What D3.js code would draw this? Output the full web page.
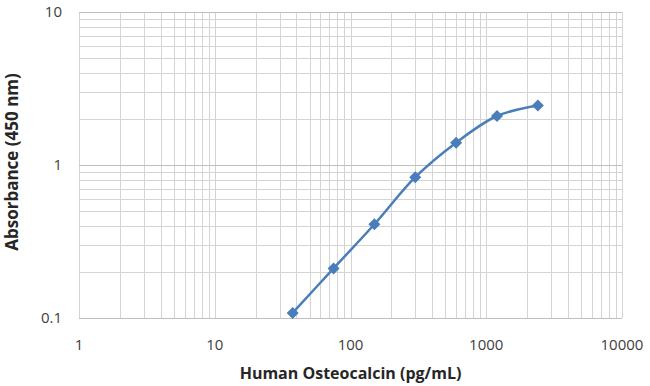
<!DOCTYPE html>
<html>
<head>
<meta charset="utf-8">
<script src="https://d3js.org/d3.v7.min.js"></script>
<style>
  body { margin: 0; background: #fff; }
  text { font-family: "Open Sans", "Liberation Sans", sans-serif; }
</style>
</head>
<body>
<div id="chart"></div>
<script>
// standard curve values
var conc = [37.5, 75, 150, 300, 600, 1200, 2400];
var absorb = [0.108, 0.211, 0.41, 0.833, 1.40, 2.09, 2.45];
var xTicks = [1, 10, 100, 1000, 10000];
var yTicks = [0.1, 1, 10];

var margin = {top: 12, right: 28, bottom: 68, left: 79},
    width = 650 - margin.left - margin.right,
    height = 386 - margin.top - margin.bottom;

var svg = d3.select("#chart")
  .append("svg")
    .attr("width", 650)
    .attr("height", 386)
  .append("g")
    .attr("transform", "translate(" + margin.left + "," + margin.top + ")");

var x = d3.scaleLog().domain([1, 10000]).range([0, width]);
var y = d3.scaleLog().domain([0.1, 10]).range([height, 0]);

// minor + major gridlines
var xGrid = [], yGrid = [];
for (var d = 1; d < 10000; d *= 10)
  for (var k = 1; k < 10; k++) xGrid.push(d * k);
xGrid.push(10000);
for (var d = 0.1; d < 9; d *= 10)
  for (var k = 1; k < 10; k++) yGrid.push(d * k);
yGrid.push(10);

svg.selectAll(".gx").data(xGrid).enter().append("line")
  .attr("x1", function(d) { return Math.round(x(d)) + 0.5; })
  .attr("x2", function(d) { return Math.round(x(d)) + 0.5; })
  .attr("y1", 0).attr("y2", height)
  .attr("stroke", "#d4d4d4").attr("stroke-width", 1);

svg.selectAll(".gy").data(yGrid).enter().append("line")
  .attr("y1", function(d) { return Math.round(y(d)) + 0.5; })
  .attr("y2", function(d) { return Math.round(y(d)) + 0.5; })
  .attr("x1", 0).attr("x2", width)
  .attr("stroke", function(d) { return yTicks.indexOf(+d.toPrecision(3)) >= 0 ? "#bfbfbf" : "#d4d4d4"; })
  .attr("stroke-width", 1);

// tick labels
svg.selectAll(".xl").data(xTicks).enter().append("text")
  .attr("x", function(d) { return x(d); })
  .attr("y", height + 27)
  .attr("dy", "0.35em")
  .attr("text-anchor", "middle")
  .style("font-size", "15px")
  .style("fill", "#404040")
  .text(function(d) { return d; });

svg.selectAll(".yl").data(yTicks).enter().append("text")
  .attr("x", -17)
  .attr("y", function(d) { return y(d); })
  .attr("dy", "0.35em")
  .attr("text-anchor", "end")
  .style("font-size", "15px")
  .style("fill", "#404040")
  .text(function(d) { return d; });

// axis titles
svg.append("text")
  .attr("x", width / 2)
  .attr("y", height + 55)
  .attr("dy", "0.35em")
  .attr("text-anchor", "middle")
  .style("font-size", "16px")
  .style("font-weight", "bold")
  .style("fill", "#262626")
  .text("Human Osteocalcin (pg/mL)");

svg.append("text")
  .attr("transform", "rotate(-90)")
  .attr("x", -(height / 2) + 3)
  .attr("y", -67)
  .attr("dy", "0.35em")
  .attr("text-anchor", "middle")
  .style("font-size", "17px")
  .style("font-weight", "bold")
  .style("fill", "#262626")
  .text("Absorbance (450 nm)");

// curve
var pts = conc.map(function(c, i) { return [c, absorb[i]]; });

svg.append("path")
  .datum(pts)
  .attr("fill", "none")
  .attr("stroke", "#4a7ebb")
  .attr("stroke-width", 2.5)
  .attr("d", d3.line()
    .curve(d3.curveCatmullRom)
    .x(function(d) { return x(d[0]); })
    .y(function(d) { return y(d[1]); }));

svg.selectAll(".pt").data(pts).enter().append("path")
  .attr("transform", function(d) { return "translate(" + x(d[0]) + "," + y(d[1]) + ") rotate(45)"; })
  .attr("d", d3.symbol().type(d3.symbolSquare).size(72))
  .attr("fill", "#4a7ebb");
</script>
</body>
</html>
